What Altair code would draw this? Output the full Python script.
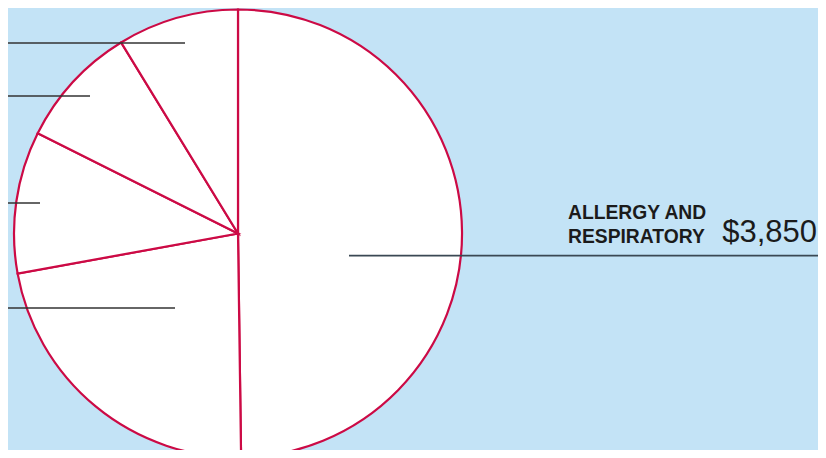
import altair as alt
import pandas as pd

# Data (slices go clockwise from 12 o'clock)
categories = ["ALLERGY AND RESPIRATORY", "Category B", "Category C", "Category D", "Category E"]
values = [3850, 1729, 793, 686, 676]
order = [0, 1, 2, 3, 4]

pie_df = pd.DataFrame({"category": categories, "value": values, "order": order})

BG = "#c3e3f6"
CRIMSON = "#cc0a45"
LINE = "#3a4853"

CX, CY, R = 230, 225.5, 224

pie = alt.Chart(pie_df).mark_arc(
    radius=R, fill="white", stroke=CRIMSON, strokeWidth=2.2
).encode(
    theta=alt.Theta("value:Q", stack=True),
    order=alt.Order("order:Q"),
    x=alt.value(CX),
    y=alt.value(CY),
)

one = pd.DataFrame({"k": [0]})

def leader(x1, x2, y, color="#333333", w=1.5):
    return alt.Chart(one).mark_rule(color=color, strokeWidth=w).encode(
        x=alt.value(x1), x2=alt.value(x2), y=alt.value(y)
    )

leaders = [
    leader(0, 177, 35),
    leader(0, 82, 88),
    leader(0, 32, 195),
    leader(0, 167, 300),
    leader(341, 810, 247.7, color=LINE, w=1.8),
]

lab_df = pie_df.iloc[[0]]

label = alt.Chart(lab_df).transform_calculate(
    lab="replace(datum.category, ' AND ', ' AND|')"
).mark_text(
    align="left", baseline="alphabetic", font="Liberation Sans", fontWeight="bold",
    fontSize=19.3, lineBreak="|", lineHeight=24, color="#1b1b1b"
).encode(
    text="lab:N", x=alt.value(560), y=alt.value(210.7)
)

value_txt = alt.Chart(lab_df).mark_text(
    align="right", baseline="alphabetic", font="Liberation Sans",
    fontSize=31, color="#1b1b1b"
).encode(
    text=alt.Text("value:Q", format="$,"), x=alt.value(809), y=alt.value(233.7)
)

chart = alt.layer(pie, *leaders, label, value_txt).properties(
    width=810, height=442, background=BG, padding=0,
    autosize=alt.AutoSizeParams(type="none"),
).configure_view(stroke=None)

chart.save("out.html", embed_options={"renderer": "svg", "actions": False})
